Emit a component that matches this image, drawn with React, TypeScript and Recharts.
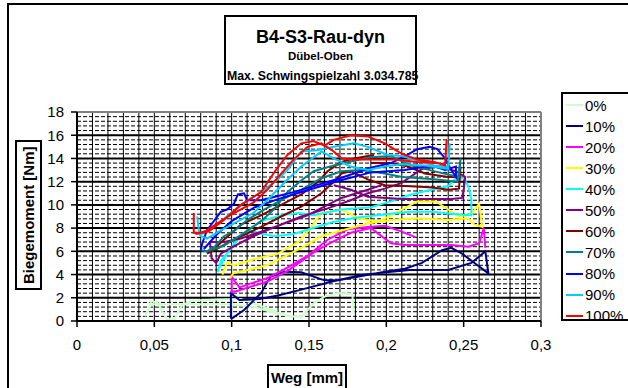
import { LineChart, Line, XAxis, YAxis, CartesianGrid } from 'recharts';

const LABELS = ['0%', '10%', '20%', '30%', '40%', '50%', '60%', '70%', '80%', '90%', '100%'];
const COLORS = ['#ccffcc', '#000080', '#ff00ff', '#ffff00', '#00ffff', '#800080', '#800000', '#008080', '#0000ff', '#00ccff', '#ff0000'];

// [Weg mm, Biegemoment Nm]
const P0: [number, number][] = [
  [0.145, 0.3], [0.13, 0.6], [0.115, 1.2], [0.1, 1.45], [0.07, 1.45], [0.048, 1.45], [0.044, 0.4],
  [0.048, 1.7], [0.052, 1.6], [0.058, 0.15], [0.063, 0.15], [0.068, 1.4], [0.075, 1.75], [0.09, 1.85],
  [0.106, 1.9], [0.123, 1.1], [0.136, 0.4], [0.145, 0.35], [0.153, 1.5], [0.16, 2.1], [0.169, 2.4],
  [0.178, 2.3], [0.179, 0.6],
];
const P10: [number, number][] = [
  [0.0995, 0.2], [0.0995, 2.4], [0.105, 1.8], [0.118, 1.9], [0.13, 2.2], [0.145, 2.7], [0.165, 3.4],
  [0.184, 3.97], [0.2, 4.2], [0.215, 4.4], [0.24, 4.4], [0.255, 5.0], [0.264, 6.0], [0.266, 4.1],
  [0.257, 5.0], [0.249, 5.8], [0.242, 6.3], [0.236, 6.1], [0.223, 5.0], [0.212, 4.5], [0.199, 4.25],
  [0.169, 3.5], [0.16, 3.5], [0.145, 4.2], [0.134, 4.25], [0.125, 3.8], [0.119, 2.4], [0.108, 0.95],
  [0.1, 0.2],
];
const P20: [number, number][] = [
  [0.219, 7.2], [0.21, 7.7], [0.199, 8.2], [0.188, 8.1], [0.175, 7.9], [0.162, 7.0], [0.149, 5.6],
  [0.136, 4.6], [0.123, 3.7], [0.105, 2.9], [0.1, 3.8], [0.1, 2.5], [0.104, 2.6], [0.123, 3.4],
  [0.136, 4.3], [0.153, 5.9], [0.162, 6.6], [0.177, 7.6], [0.19, 8.0], [0.203, 6.7], [0.212, 6.55],
  [0.242, 6.55], [0.253, 6.4], [0.26, 6.7], [0.263, 8.0], [0.264, 6.3],
];
const P30: [number, number][] = [
  [0.094, 4.0], [0.097, 5.0], [0.1015, 4.8], [0.114, 5.3], [0.13, 5.8], [0.143, 6.8], [0.151, 8.0],
  [0.158, 9.3], [0.171, 9.6], [0.182, 8.85], [0.195, 8.55], [0.21, 9.6], [0.22, 10.3], [0.232, 10.3],
  [0.24, 9.6], [0.247, 9.0], [0.255, 9.2], [0.26, 10.1], [0.262, 8.1], [0.257, 8.3], [0.253, 8.85],
  [0.24, 8.7], [0.22, 8.85], [0.203, 8.7], [0.188, 8.4], [0.171, 7.8], [0.158, 7.3], [0.145, 6.3],
  [0.123, 4.8], [0.101, 4.1], [0.099, 3.7],
];
const P40: [number, number][] = [
  [0.091, 4.2], [0.093, 5.2], [0.097, 5.8], [0.104, 7.0], [0.112, 7.8], [0.12, 7.5], [0.128, 7.3],
  [0.14, 7.5], [0.15, 7.9], [0.165, 8.5], [0.18, 8.9], [0.2, 9.2], [0.215, 9.4], [0.23, 9.4],
  [0.245, 9.2], [0.255, 9.1], [0.255, 10.5], [0.253, 11.6], [0.25, 12.3], [0.244, 12.2], [0.24, 11.6],
  [0.229, 11.3], [0.216, 10.9], [0.203, 10.3], [0.19, 9.8], [0.171, 9.6], [0.153, 9.1], [0.143, 9.3],
  [0.132, 9.1], [0.119, 8.6], [0.106, 7.4], [0.098, 6.0], [0.092, 4.6],
];
const P50: [number, number][] = [
  [0.197, 11.7], [0.188, 11.3], [0.171, 10.6], [0.162, 10.0], [0.149, 9.1], [0.132, 8.3], [0.119, 7.7],
  [0.106, 7.1], [0.095, 6.8], [0.086, 6.8], [0.087, 5.4], [0.09, 5.0], [0.093, 5.8], [0.101, 6.4],
  [0.114, 7.3], [0.128, 8.1], [0.145, 9.0], [0.162, 9.7], [0.177, 10.4], [0.188, 11.0], [0.199, 11.4],
  [0.21, 11.9], [0.223, 13.1], [0.234, 13.3], [0.245, 12.9], [0.251, 12.4], [0.25, 11.3], [0.249, 10.6],
  [0.242, 10.5], [0.21, 10.5], [0.188, 10.7], [0.177, 11.3], [0.166, 11.7],
];
const P60: [number, number][] = [
  [0.192, 14.3], [0.179, 14.0], [0.171, 13.7], [0.162, 12.9], [0.156, 12.0], [0.145, 10.9], [0.132, 10.0],
  [0.119, 9.1], [0.106, 8.3], [0.095, 7.0], [0.087, 6.0], [0.084, 5.8], [0.089, 6.1], [0.097, 6.7],
  [0.106, 7.3], [0.119, 8.1], [0.132, 9.0], [0.145, 9.85], [0.158, 11.0], [0.166, 12.0], [0.171, 12.7],
  [0.177, 12.9], [0.188, 12.2], [0.199, 11.7], [0.216, 11.6], [0.23, 11.5], [0.24, 11.3], [0.247, 11.4],
  [0.248, 13.3], [0.247, 12.4], [0.24, 12.4], [0.225, 12.7], [0.214, 13.3], [0.203, 13.6], [0.19, 13.6],
];
const P70: [number, number][] = [
  [0.08, 6.1], [0.084, 6.0], [0.089, 6.4], [0.095, 7.3], [0.102, 7.8], [0.11, 8.7], [0.121, 9.6],
  [0.132, 10.4], [0.145, 11.3], [0.158, 12.3], [0.171, 12.9], [0.184, 13.0], [0.199, 12.7], [0.21, 12.4],
  [0.231, 12.2], [0.246, 12.0], [0.248, 14.0], [0.247, 12.4], [0.234, 12.8], [0.216, 13.4], [0.203, 14.2],
  [0.19, 14.1], [0.179, 13.8], [0.166, 13.4], [0.153, 12.9], [0.145, 12.1], [0.136, 11.1], [0.128, 9.7],
  [0.119, 8.6], [0.106, 7.4], [0.095, 6.5], [0.084, 6.0],
];
const P80: [number, number][] = [
  [0.08, 6.1], [0.081, 6.7], [0.084, 7.8], [0.089, 8.7], [0.093, 9.4], [0.097, 9.6], [0.1015, 10.1],
  [0.104, 10.9], [0.108, 11.0], [0.11, 10.4], [0.119, 10.4], [0.128, 10.7], [0.14, 11.1], [0.155, 11.7],
  [0.17, 12.3], [0.19, 13.2], [0.203, 13.6], [0.212, 14.2], [0.22, 14.8], [0.228, 15.0], [0.233, 14.8],
  [0.238, 14.0], [0.242, 13.0], [0.245, 12.4], [0.245, 13.3], [0.238, 13.0], [0.229, 13.4], [0.212, 13.0],
  [0.19, 12.8], [0.17, 12.1], [0.15, 11.3], [0.13, 10.5], [0.115, 9.8], [0.1, 8.6], [0.09, 7.4],
  [0.082, 6.2],
];
const P90: [number, number][] = [
  [0.0777, 9.0], [0.079, 7.5], [0.08, 7.3], [0.084, 7.1], [0.093, 7.8], [0.1015, 8.4], [0.114, 9.3],
  [0.123, 10.4], [0.134, 11.9], [0.145, 13.3], [0.153, 14.1], [0.158, 14.6], [0.166, 14.0], [0.177, 13.3],
  [0.188, 13.0], [0.199, 13.3], [0.21, 13.5], [0.225, 13.4], [0.24, 13.1], [0.241, 15.3], [0.24, 13.3],
  [0.231, 13.4], [0.218, 13.9], [0.21, 14.2], [0.201, 14.3], [0.188, 15.0], [0.179, 15.3], [0.166, 15.0],
  [0.155, 14.7], [0.145, 14.6], [0.136, 13.0], [0.128, 12.0], [0.119, 11.1], [0.106, 10.0], [0.095, 8.8],
  [0.085, 7.8], [0.079, 7.4],
];
const P100: [number, number][] = [
  [0.0755, 9.3], [0.0755, 7.6], [0.08, 7.6], [0.084, 7.8], [0.093, 8.6], [0.1015, 9.3], [0.114, 10.2],
  [0.123, 11.3], [0.132, 12.7], [0.14, 13.9], [0.149, 15.0], [0.158, 15.3], [0.166, 14.6], [0.171, 14.0],
  [0.179, 13.9], [0.19, 13.9], [0.205, 13.9], [0.22, 13.7], [0.232, 13.6], [0.238, 13.5], [0.239, 15.6],
  [0.238, 13.4], [0.231, 13.7], [0.22, 13.9], [0.21, 14.4], [0.199, 15.3], [0.188, 15.9], [0.177, 16.0],
  [0.166, 15.6], [0.16, 15.1], [0.153, 15.5], [0.145, 15.3], [0.136, 14.3], [0.128, 12.9], [0.119, 11.1],
  [0.106, 10.0], [0.095, 8.7], [0.085, 7.7], [0.0765, 7.5],
];

const SERIES_POINTS = [P0, P10, P20, P30, P40, P50, P60, P70, P80, P90, P100];

const X_TICKS = [0, 0.05, 0.1, 0.15, 0.2, 0.25, 0.3];
const Y_TICKS = [0, 2, 4, 6, 8, 10, 12, 14, 16, 18];

const FONT = 'Arial, "Liberation Sans", sans-serif';

// grid helpers (axis values, not data)
const X_GRID = Array.from({ length: 29 }, (_, i) => Math.round((i + 1) * 10) / 1000);
const Y_MINOR = Array.from({ length: 45 }, (_, i) => Math.round(i * 4) / 10).filter((v) => v % 2 !== 0 && v > 0);
const Y_MAJOR = Y_TICKS.filter((v) => v > 0 && v < 18);

const fmt = (v: number) => String(v).replace('.', ',');

export default function App() {
  const series = SERIES_POINTS.map((pts, i) => ({
    name: LABELS[i],
    color: COLORS[i],
    data: pts.map(([x, y]) => ({ x, y })),
  }));

  return (
    <div style={{ position: 'fixed', left: 0, top: 0, width: 628, height: 388, overflow: 'hidden', background: '#fff', fontFamily: FONT, color: '#000' }}>
      <div style={{ position: 'absolute', left: 7, top: 3, width: 700, height: 500, border: '2px solid #000' }} />

      <div style={{ position: 'absolute', left: 0, top: 0 }}>
        <LineChart width={628} height={388} margin={{ top: 112, right: 87, bottom: 37, left: 37 }}>
          <CartesianGrid horizontal={false} verticalValues={X_GRID} stroke="#000" strokeWidth={1} />
          <CartesianGrid vertical={false} horizontalValues={Y_MINOR} stroke="#000" strokeDasharray="4 2" strokeWidth={1} />
          <CartesianGrid vertical={false} horizontalValues={Y_MAJOR} stroke="#000" strokeWidth={2} />
          <CartesianGrid horizontalValues={[18]} verticalValues={[0.3]} stroke="#808080" strokeWidth={2} />
          <XAxis
            type="number"
            dataKey="x"
            domain={[0, 0.3]}
            ticks={X_TICKS}
            interval={0}
            allowDataOverflow
            tickFormatter={fmt}
            height={30}
            axisLine={{ stroke: '#000', strokeWidth: 2 }}
            tickLine={{ stroke: '#000', strokeWidth: 1.5 }}
            tickSize={6}
            tickMargin={12}
            tick={{ fill: '#000', fontSize: 15, fontFamily: FONT }}
          />
          <YAxis
            type="number"
            dataKey="y"
            domain={[0, 18]}
            ticks={Y_TICKS}
            interval={0}
            allowDataOverflow
            width={40}
            axisLine={{ stroke: '#000', strokeWidth: 2 }}
            tickLine={{ stroke: '#000', strokeWidth: 1.5 }}
            tickSize={6}
            tickMargin={7}
            tick={{ fill: '#000', fontSize: 15, fontFamily: FONT }}
          />
          {series.map((s) => (
            <Line
              key={s.name}
              name={s.name}
              data={s.data}
              dataKey="y"
              type="linear"
              stroke={s.color}
              strokeWidth={2}
              dot={false}
              activeDot={false}
              isAnimationActive={false}
            />
          ))}
        </LineChart>
      </div>

      <div style={{ position: 'absolute', left: 224, top: 15, width: 193, height: 70, border: '2px solid #000', boxSizing: 'border-box', background: '#fff' }}>
        <div style={{ position: 'absolute', left: 0, right: 0, top: 10, textAlign: 'center', fontWeight: 'bold', fontSize: 18, lineHeight: '20px' }}>B4-S3-Rau-dyn</div>
        <div style={{ position: 'absolute', left: 0, right: 0, top: 32, textAlign: 'center', fontWeight: 'bold', fontSize: 11.5, lineHeight: '14px' }}>Dübel-Oben</div>
        <div style={{ position: 'absolute', left: 1, top: 51, whiteSpace: 'nowrap', fontWeight: 'bold', fontSize: 12.3, lineHeight: '16px' }}>Max. Schwingspielzahl 3.034.785</div>
      </div>

      <div style={{ position: 'absolute', left: 15, top: 140, width: 27, height: 150, border: '2px solid #000', boxSizing: 'border-box', background: '#fff', display: 'flex', alignItems: 'center', justifyContent: 'center', writingMode: 'vertical-rl', transform: 'rotate(180deg)', fontWeight: 'bold', fontSize: 15, whiteSpace: 'nowrap' }}>
        Biegemoment [Nm]
      </div>

      <div style={{ position: 'absolute', left: 267, top: 364, width: 80, height: 26, border: '2px solid #000', boxSizing: 'border-box', background: '#fff', display: 'flex', alignItems: 'center', justifyContent: 'center', fontWeight: 'bold', fontSize: 15, whiteSpace: 'nowrap' }}>
        Weg [mm]
      </div>

      <div style={{ position: 'absolute', left: 561, top: 92, width: 90, height: 229, border: '2px solid #000', boxSizing: 'border-box', overflow: 'hidden', background: '#fff' }}>
        {series.map((s, i) => (
          <div key={s.name} style={{ position: 'absolute', left: 3, top: 11 + i * 21.07 - 9, height: 18, display: 'flex', alignItems: 'center', whiteSpace: 'nowrap' }}>
            <span style={{ display: 'inline-block', width: 17, height: 2, background: s.color }} />
            <span style={{ marginLeft: 2, fontSize: 15 }}>{s.name}</span>
          </div>
        ))}
      </div>
    </div>
  );
}
